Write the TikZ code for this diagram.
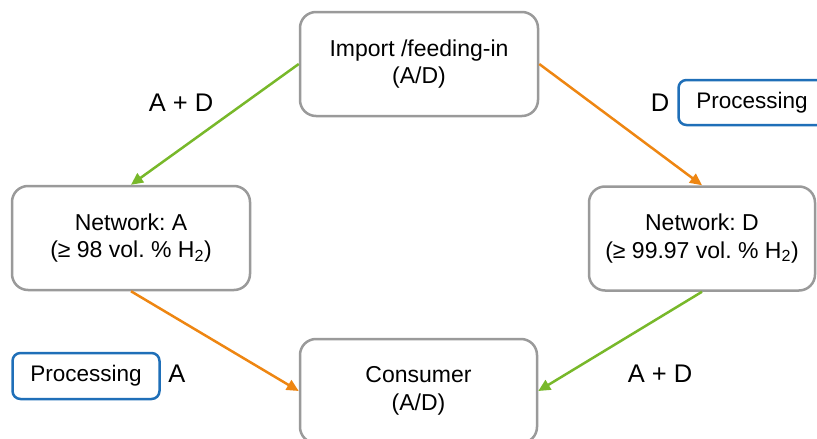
\documentclass[tikz,border=0pt]{standalone}
\usepackage{fontspec}
\setmainfont{Liberation Sans}
\usetikzlibrary{arrows.meta}
\definecolor{boxgray}{HTML}{9A9A9A}
\definecolor{procblue}{HTML}{1F6FB8}
\definecolor{flowgreen}{HTML}{78B82A}
\definecolor{floworange}{HTML}{EE8612}
\frenchspacing
\tikzset{
  mainbox/.style={draw=boxgray, line width=2.5pt, rounded corners=16pt, fill=white,
    minimum width=#1, minimum height=104pt, align=center, inner sep=0pt,
    font=\fontsize{23}{27.5}\selectfont},
  procbox/.style={draw=procblue, line width=2.5pt, rounded corners=8pt, fill=white,
    minimum width=147pt, minimum height=46pt, inner sep=0pt,
    font=\fontsize{22.5}{26}\selectfont},
  lbl/.style={inner sep=0pt, font=\fontsize{25.5}{28}\selectfont},
  flow/.style={line width=2.5pt, -{Triangle[length=12pt,width=11pt]}},
}
\begin{document}
\begin{tikzpicture}[x=1pt,y=-1pt]
\useasboundingbox (0,0) rectangle (817,439);
\node[mainbox=238pt] (imp) at (419,64) {Import /feeding-in\\(A/D)};
\node[mainbox=238pt] (neta) at (131,238) {Network: A\\(≥ 98 vol. \% H\textsubscript{2})};
\node[mainbox=226pt] (netd) at (702,238.5) {Network: D\\(≥ 99.97 vol. \% H\textsubscript{2})};
\node[mainbox=237pt] (cons) at (418.5,391) {Consumer\\(A/D)};
\node[procbox] (proca) at (86,376) {Processing};
\node[procbox, minimum height=45pt] (procd) at (752,102.5) {Processing};
\node[lbl] (l1) at (181,103) {A + D};
\node[lbl] (l2) at (660,103) {D};
\node[lbl] (l3) at (660,374) {A + D};
\node[lbl] (l4) at (177,374) {A};
\draw[flow, flowgreen] (imp.west) -- (neta.north);
\draw[flow, floworange] (imp.east) -- (netd.north);
\draw[flow, floworange] (neta.south) -- (cons.west);
\draw[flow, flowgreen] (netd.south) -- (cons.east);
\end{tikzpicture}
\end{document}
